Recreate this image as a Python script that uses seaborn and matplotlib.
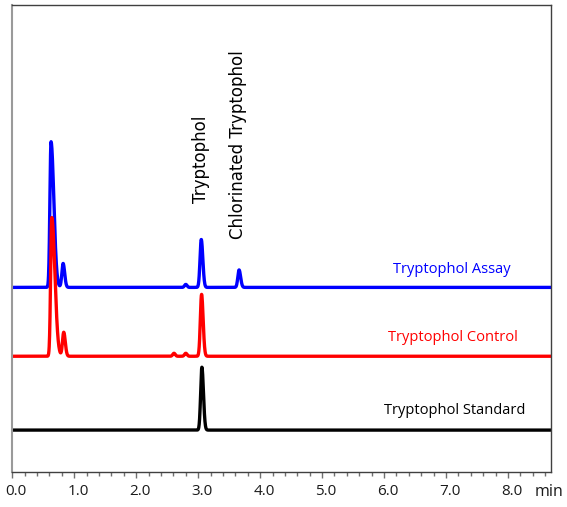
import numpy as np
import pandas as pd
import matplotlib
matplotlib.use("Agg")
import matplotlib.pyplot as plt
import matplotlib.transforms as mtransforms
from matplotlib.ticker import MultipleLocator, FormatStrFormatter
import seaborn as sns

# Samples, drawn top to bottom, with their colours and vertical offsets
samples = ["Tryptophol Assay", "Tryptophol Control", "Tryptophol Standard"]
colors = ["#0000ff", "#ff0000", "#000000"]
baselines = [185, 116, 42]

# Peak tables: retention time (min), height, leading width, tailing width
assay_rt = [0.625, 0.82, 2.80, 3.05, 3.66]
assay_h = [146, 24, 3, 48, 17.5]
assay_wl = [0.018, 0.02, 0.02, 0.02, 0.02]
assay_wr = [0.045, 0.025, 0.02, 0.025, 0.025]

control_rt = [0.637, 0.83, 2.61, 2.80, 3.055]
control_h = [139, 24, 3, 3, 62]
control_wl = [0.018, 0.02, 0.02, 0.02, 0.02]
control_wr = [0.05, 0.025, 0.02, 0.02, 0.025]

standard_rt = [3.06]
standard_h = [63]
standard_wl = [0.02]
standard_wr = [0.025]

peak_tables = [
    (assay_rt, assay_h, assay_wl, assay_wr),
    (control_rt, control_h, control_wl, control_wr),
    (standard_rt, standard_h, standard_wl, standard_wr),
]

x_ticks = [0, 1, 2, 3, 4, 5, 6, 7, 8]
x_max = 8.69
y_max = 468

# Peak labels: text, retention time, bottom of text
peak_labels = ["Tryptophol", "Chlorinated Tryptophol"]
peak_label_rt = [3.05, 3.645]
peak_label_y = [270, 233]

# Trace labels: x position, y position
trace_label_x = [7.10, 7.12, 7.14]
trace_label_y = [203, 135, 62]


def trace(t, rts, hs, wls, wrs):
    y = np.zeros_like(t)
    for rt, h, wl, wr in zip(rts, hs, wls, wrs):
        w = np.where(t < rt, wl, wr)
        y += h * np.exp(-0.5 * ((t - rt) / w) ** 2)
    return y


t = np.linspace(0, x_max, 4000)
frames = []
for name, base, (rts, hs, wls, wrs) in zip(samples, baselines, peak_tables):
    frames.append(pd.DataFrame({"time": t,
                                "signal": base + trace(t, rts, hs, wls, wrs),
                                "sample": name}))
df = pd.concat(frames, ignore_index=True)

sns.set_theme(style="white")
plt.rcParams["font.family"] = ["Open Sans", "DejaVu Sans"]

fig = plt.figure(figsize=(5.67, 5.07), dpi=100)
ax = fig.add_axes([12.3 / 567, 35 / 507, 538.4 / 567, 467 / 507])

sns.lineplot(data=df, x="time", y="signal", hue="sample", hue_order=samples,
             palette=colors, linewidth=2.4, legend=False, ax=ax,
             estimator=None, sort=False)

ax.set_xlim(0, x_max)
ax.set_ylim(0, y_max)
ax.set_xlabel("")
ax.set_ylabel("")
ax.set_yticks([])
ax.set_xticks(x_ticks)
ax.xaxis.set_major_formatter(FormatStrFormatter("%.1f"))
ax.xaxis.set_minor_locator(MultipleLocator(0.2))
ax.tick_params(axis="x", which="major", direction="out", length=4.5, width=1,
               color="#707070", labelsize=11, labelcolor="#1a1a1a", pad=4,
               bottom=True)
ax.tick_params(axis="x", which="minor", direction="out", length=3, width=1,
               color="#707070", bottom=True)
offset = mtransforms.ScaledTranslation(4 / 100, 0, fig.dpi_scale_trans)
for lab in ax.get_xticklabels():
    lab.set_transform(lab.get_transform() + offset)

for side in ["top", "right", "bottom"]:
    ax.spines[side].set_color("#404040")
    ax.spines[side].set_linewidth(1.0)
ax.spines["left"].set_color("#9a9a9a")
ax.spines["left"].set_linewidth(1.5)

ax.text(549.5 / 567, 15 / 507, "min", transform=fig.transFigure,
        ha="center", va="center", fontsize=11.5, color="#1a1a1a")

for text, x, y, c in zip(samples, trace_label_x, trace_label_y, colors):
    ax.text(x, y, text, color=c, ha="center", va="center", fontsize=10.5)

for text, x, y in zip(peak_labels, peak_label_rt, peak_label_y):
    ax.text(x, y, text, rotation=90, ha="center", va="bottom",
            fontsize=12, color="#000000", family="DejaVu Sans")

fig.savefig("out.png", dpi=100)
